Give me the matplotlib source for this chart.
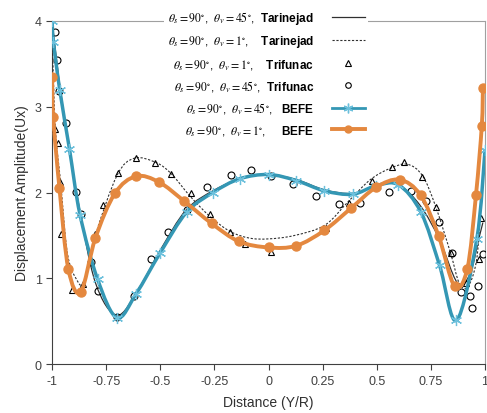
import matplotlib
matplotlib.use('Agg')
import matplotlib.pyplot as plt
from matplotlib.path import Path
from matplotlib.patches import PathPatch
from matplotlib.lines import Line2D
import numpy as np

plt.rcParams['font.family'] = ['Liberation Sans', 'DejaVu Sans']
plt.rcParams['mathtext.fontset'] = 'custom'
plt.rcParams['mathtext.rm'] = 'STIXGeneral'
plt.rcParams['mathtext.it'] = 'STIXGeneral:italic'
plt.rcParams['mathtext.bf'] = 'Liberation Sans:bold'

# --- data ---
# Tarinejad, theta_v = 45 (solid line)
tar45_x = [-1.0, -0.97, -0.93, -0.88, -0.80, -0.70, -0.60, -0.50, -0.38, -0.25, -0.12,
           0.0, 0.13, 0.26, 0.39, 0.50, 0.60, 0.70, 0.79, 0.872, 0.93, 0.975, 0.99]
tar45_y = [4.0, 3.35, 2.65, 1.9, 0.95, 0.57, 0.88, 1.33, 1.80, 2.03, 2.17,
           2.21, 2.15, 2.03, 1.99, 2.08, 2.09, 1.85, 1.45, 0.95, 1.05, 1.5, 1.65]

# Tarinejad, theta_v = 1 (dotted line)
tar1_x = [-1.0, -0.985, -0.96, -0.93, -0.89, -0.85, -0.80, -0.70, -0.62, -0.52, -0.45,
          -0.36, -0.27, -0.18, -0.09, 0.0, 0.12, 0.26, 0.37, 0.47, 0.56, 0.64, 0.71,
          0.77, 0.84, 0.88, 0.92, 0.96, 0.98, 1.0]
tar1_y = [3.8, 2.75, 2.1, 1.3, 1.0, 0.95, 1.5, 2.2, 2.4, 2.35, 2.22,
          1.95, 1.72, 1.55, 1.47, 1.46, 1.50, 1.62, 1.9, 2.15, 2.28, 2.33, 2.2,
          1.85, 1.3, 0.95, 0.9, 1.2, 1.8, 2.5]

# Trifunac, theta_v = 1 (triangles)
tri1_x = [-0.986, -0.971, -0.963, -0.959, -0.909, -0.859, -0.825, -0.80, -0.764, -0.697,
          -0.612, -0.523, -0.452, -0.359, -0.269, -0.176, -0.11, 0.012, 0.263, 0.37,
          0.476, 0.57, 0.624, 0.711, 0.773, 0.842, 0.911, 0.972, 0.98]
tri1_y = [2.74, 2.58, 2.12, 1.52, 0.87, 0.93, 1.19, 1.52, 1.85, 2.23,
          2.40, 2.35, 2.22, 1.99, 1.75, 1.54, 1.40, 1.31, 1.59, 1.88,
          2.14, 2.30, 2.36, 2.18, 1.83, 1.30, 0.95, 1.22, 1.70]

# Trifunac, theta_v = 45 (circles)
tri45_x = [-0.986, -0.978, -0.966, -0.937, -0.889, -0.868, -0.822, -0.788, -0.699, -0.623,
           -0.544, -0.464, -0.379, -0.283, -0.175, -0.083, 0.009, 0.112, 0.217, 0.323,
           0.423, 0.558, 0.659, 0.727, 0.785, 0.847, 0.888, 0.929, 0.941, 0.969, 0.992]
tri45_y = [3.87, 3.55, 3.18, 2.81, 2.01, 1.75, 1.19, 0.85, 0.55, 0.80,
           1.22, 1.54, 1.80, 2.07, 2.20, 2.26, 2.19, 2.10, 1.96, 1.87,
           1.88, 2.01, 2.02, 1.90, 1.66, 1.29, 0.84, 0.79, 0.66, 0.91, 1.28]

# BEFE, theta_v = 45 (blue)
befe45_x = [-1.0, -0.994, -0.965, -0.92, -0.871, -0.79, -0.70, -0.612, -0.50, -0.379,
            -0.257, -0.134, 0.0, 0.128, 0.258, 0.388, 0.496, 0.60, 0.704, 0.79,
            0.868, 0.962, 1.0]
befe45_y = [4.0, 3.76, 3.2, 2.51, 1.74, 0.99, 0.54, 0.82, 1.30, 1.77,
            2.0, 2.16, 2.21, 2.14, 2.02, 1.98, 2.08, 2.09, 1.77, 1.15,
            0.51, 1.46, 2.5]

# BEFE, theta_v = 1 (orange)
befe1_x = [-1.0, -0.995, -0.966, -0.925, -0.868, -0.80, -0.71, -0.612, -0.505, -0.39,
           -0.263, -0.137, 0.0, 0.128, 0.258, 0.382, 0.496, 0.605, 0.702, 0.786,
           0.859, 0.918, 0.958, 0.985, 0.99]
befe1_y = [3.35, 2.88, 2.05, 1.11, 0.84, 1.47, 1.99, 2.19, 2.12, 1.90,
           1.64, 1.43, 1.36, 1.38, 1.56, 1.82, 2.06, 2.15, 1.97, 1.49,
           0.91, 1.11, 1.97, 2.78, 3.22]

x_ticks = [-1, -0.75, -0.5, -0.25, 0, 0.25, 0.5, 0.75, 1]
x_tick_labels = ['-1', '-0.75', '-0.5', '-0.25', '0', '0.25', '0.5', '0.75', '1']
y_ticks = [0, 1, 2, 3, 4]

BLUE = '#3497b4'
BLUE_MK = '#6cc0dc'
ORANGE = '#e4883f'


def smooth(ax, xs, ys, t=1/6, **kw):
    # excel-like smoothed line drawn as cubic bezier segments
    p = np.column_stack([xs, ys])
    n = len(p)
    verts = [p[0]]
    codes = [Path.MOVETO]
    for i in range(n - 1):
        p0 = p[max(i - 1, 0)]
        p3 = p[min(i + 2, n - 1)]
        c1 = p[i] + (p[i + 1] - p0) * t
        c2 = p[i + 1] - (p3 - p[i]) * t
        verts += [c1, c2, p[i + 1]]
        codes += [Path.CURVE4] * 3
    patch = PathPatch(Path(verts, codes), fill=False, **kw)
    ax.add_patch(patch)
    return patch


fig = plt.figure(figsize=(4.87, 4.14), dpi=100)
ax = fig.add_axes([0.107, 0.118, 0.889, 0.829])

smooth(ax, tar45_x, tar45_y, edgecolor='#303030', lw=0.9, zorder=3)
smooth(ax, tar1_x, tar1_y, edgecolor='#303030', lw=0.8, linestyle=(0, (2, 1.5)), zorder=3)
ax.plot(tri1_x, tri1_y, ls='none', marker='^', ms=5, mfc='none', mec='black', mew=0.8, zorder=4)
ax.plot(tri45_x, tri45_y, ls='none', marker='o', ms=5, mfc='none', mec='black', mew=0.8, zorder=4)
smooth(ax, befe45_x, befe45_y, edgecolor=BLUE, lw=2.5, zorder=5)
ax.plot(befe45_x, befe45_y, ls='none', marker=(6, 2, 0), ms=8, mec=BLUE_MK, mew=0.9, zorder=6)
smooth(ax, befe1_x, befe1_y, edgecolor=ORANGE, lw=2.8, zorder=7)
ax.plot(befe1_x, befe1_y, ls='none', marker='o', ms=6.5, mfc=ORANGE, mec=ORANGE, zorder=8)

ax.set_xlim(-1, 1)
ax.set_ylim(0, 4)
ax.set_xticks(x_ticks)
ax.set_xticklabels(x_tick_labels)
ax.set_yticks(y_ticks)
ax.tick_params(direction='out', length=4, width=0.8, labelsize=9, colors='#404040')
for s in ['left', 'bottom']:
    ax.spines[s].set_color('#404040')
for s in ['top', 'right']:
    ax.spines[s].set_color('#a0a0a0')
ax.set_xlabel('Distance (Y/R)', fontsize=10, color='#303030', labelpad=6)
ax.set_ylabel('Displacement Amplitude(Ux)', fontsize=10, color='#303030', labelpad=4)

labels = [
    r'$\theta_s = 90^{\circ}$,  $\theta_v = 45^{\circ}$,  $\mathbf{Tarinejad}$',
    r'$\theta_s = 90^{\circ}$,  $\theta_v = 1^{\circ}$,    $\mathbf{Tarinejad}$',
    r'$\theta_s = 90^{\circ}$,  $\theta_v = 1^{\circ}$,    $\mathbf{Trifunac}$',
    r'$\theta_s = 90^{\circ}$,  $\theta_v = 45^{\circ}$,  $\mathbf{Trifunac}$',
    r'$\theta_s = 90^{\circ}$,  $\theta_v = 45^{\circ}$,   $\mathbf{BEFE}$',
    r'$\theta_s = 90^{\circ}$,  $\theta_v = 1^{\circ}$,     $\mathbf{BEFE}$',
]
handles = [
    Line2D([], [], color='#303030', lw=0.9),
    Line2D([], [], color='#303030', lw=0.8, dashes=(2, 1.5)),
    Line2D([], [], ls='none', marker='^', ms=4, mfc='none', mec='black', mew=0.8),
    Line2D([], [], ls='none', marker='o', ms=4, mfc='none', mec='black', mew=0.8),
    Line2D([], [], color=BLUE, lw=2, marker=(6, 2, 0), ms=7, mec=BLUE_MK),
    Line2D([], [], color=ORANGE, lw=2.8, marker='o', ms=5, mfc=ORANGE, mec=ORANGE),
]
leg = ax.legend(handles, labels, loc='upper left', bbox_to_anchor=(0.245, 1.062),
                frameon=True, fancybox=False, edgecolor='none', facecolor='white',
                framealpha=1, markerfirst=False, fontsize=8.5, labelspacing=0.62,
                handlelength=2.8, handletextpad=1.5, borderpad=0.3, numpoints=1)
leg.set_zorder(20)

fig.savefig('out.png', dpi=100, facecolor='white')
